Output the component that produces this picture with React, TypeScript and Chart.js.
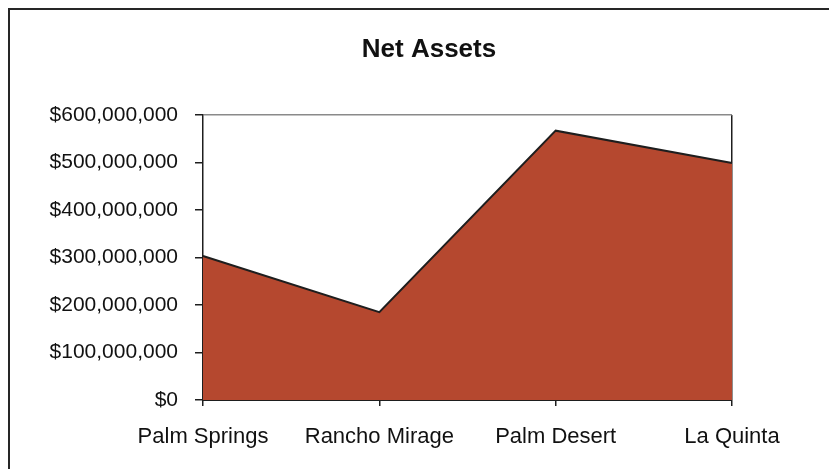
import React, { useEffect, useRef } from "react";
import { Chart, registerables } from "chart.js";

Chart.register(...registerables);

// Net assets by city (USD)
const categories = ["Palm Springs", "Rancho Mirage", "Palm Desert", "La Quinta"];
const netAssets = [303000000, 185000000, 567000000, 499000000];
const yMin = 0;
const yMax = 600000000;
const yStep = 100000000;
const chartTitle = "Net Assets";

const FONT = "'Liberation Sans', Arial, sans-serif";
const DARK = "#1e1e1e";

// Heading drawn at a fixed spot above the plot, slightly left of the plot centre
const headingPlugin = {
  id: "heading",
  afterDraw(chart: any) {
    const { ctx } = chart;
    ctx.save();
    ctx.font = `bold 26px ${FONT}`;
    ctx.fillStyle = "#111";
    ctx.textAlign = "center";
    ctx.textBaseline = "alphabetic";
    ctx.fillText(chartTitle, 419, 47);
    ctx.restore();
  },
};

export default function App() {
  const canvasRef = useRef<HTMLCanvasElement | null>(null);

  useEffect(() => {
    const canvas = canvasRef.current;
    if (!canvas) return;
    const chart = new Chart(canvas, {
      type: "line",
      data: {
        labels: categories,
        datasets: [
          {
            label: chartTitle,
            data: netAssets,
            fill: "origin",
            backgroundColor: "#b5482f",
            borderColor: DARK,
            borderWidth: 2,
            pointRadius: 0,
            tension: 0,
          },
        ],
      },
      plugins: [headingPlugin],
      options: {
        animation: false,
        responsive: false,
        maintainAspectRatio: false,
        layout: { padding: { left: 0, right: 97, top: 105, bottom: 0 } },
        plugins: {
          legend: { display: false },
          tooltip: { enabled: false },
          title: { display: false },
        },
        scales: {
          x: {
            offset: false,
            grid: {
              drawOnChartArea: true,
              color: (ctx: any) => (ctx.index === categories.length - 1 ? DARK : "rgba(0,0,0,0)"),
              lineWidth: 1.5,
              tickColor: DARK,
              tickLength: 6,
            },
            border: { display: true, color: DARK, width: 2 },
            ticks: {
              color: "#111",
              font: { family: FONT, size: 22 },
              padding: 18,
              maxRotation: 0,
              autoSkip: false,
            },
            afterFit: (scale: any) => {
              scale.height = 69;
            },
          },
          y: {
            min: yMin,
            max: yMax,
            grid: {
              drawOnChartArea: true,
              color: (ctx: any) => (ctx.tick && ctx.tick.value === yMax ? "#8a8a8a" : "rgba(0,0,0,0)"),
              lineWidth: 1.5,
              tickColor: DARK,
              tickLength: 8,
            },
            border: { display: true, color: DARK, width: 1.5 },
            ticks: {
              stepSize: yStep,
              color: "#111",
              font: { family: FONT, size: 21 },
              padding: 17,
              callback: (v: any) => "$" + Number(v).toLocaleString("en-US"),
            },
            afterFit: (scale: any) => {
              scale.width = 193;
            },
          },
        },
      },
    });
    return () => chart.destroy();
  }, []);

  return (
    <div
      style={{
        position: "absolute",
        left: 8,
        top: 8,
        width: 819,
        height: 459,
        borderTop: "2px solid #262626",
        borderLeft: "2px solid #262626",
        background: "#fff",
      }}
    >
      <canvas ref={canvasRef} width={819} height={459} style={{ display: "block" }} />
    </div>
  );
}
